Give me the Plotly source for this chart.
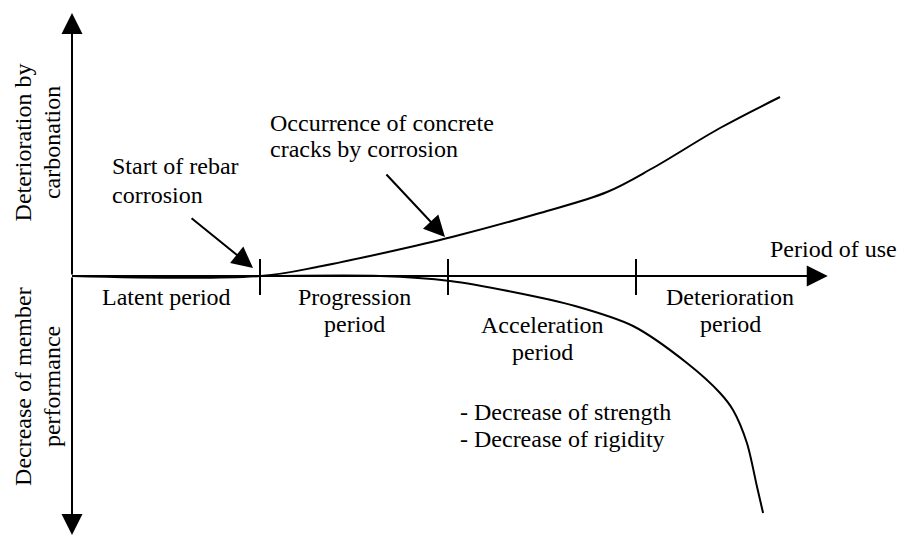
import plotly.graph_objects as go

# ---- data (x: period of use, period boundaries at 1, 2, 3; y: + deterioration / - decrease of performance)
carb_x = [0.0, 1.005, 1.330, 1.681, 2.021, 2.489, 2.846, 3.090, 3.447, 3.766]
carb_y = [0.0, 0.0, 0.10, 0.24, 0.39, 0.63, 0.84, 1.08, 1.48, 1.79]

perf_x = [0.0, 1.005, 1.638, 2.011, 2.346, 2.676, 2.984, 3.271, 3.447, 3.516, 3.590, 3.644, 3.676]
perf_y = [0.0, 0.0, 0.0, -0.05, -0.16, -0.30, -0.50, -0.87, -1.17, -1.34, -1.67, -2.11, -2.37]

period_bounds = [1, 2, 3]
period_centers = [0.5, 1.5, 2.5, 3.5]
period_labels = [["Latent period"], ["Progression", "period"], ["Acceleration", "period"], ["Deterioration", "period"]]
period_label_top = [-0.21, -0.21, -0.49, -0.21]

axis_end_x = 4.02
axis_top_y = 2.63
axis_bottom_y = -2.59

FAMILY = "Liberation Serif"

fig = go.Figure()
fig.add_trace(go.Scatter(x=carb_x, y=carb_y, mode="lines", line=dict(color="black", width=2, shape="spline", smoothing=1.0), hoverinfo="skip"))
fig.add_trace(go.Scatter(x=perf_x, y=perf_y, mode="lines", line=dict(color="black", width=2, shape="spline", smoothing=0.8), hoverinfo="skip"))

ann = []
def arrow(x, y, ax, ay, size, width=2):
    ann.append(dict(x=x, y=y, ax=ax, ay=ay, xref="x", yref="y", axref="x", ayref="y",
                    text="", showarrow=True, arrowhead=2, arrowsize=size, arrowwidth=width,
                    arrowcolor="black", standoff=0))

# axes with arrowheads
arrow(axis_end_x, 0, 0, 0, 2.1)
arrow(0, axis_top_y, 0, 0, 2.1)
arrow(0, axis_bottom_y, 0, 0, 2.1)

# leader arrows
arrow(0.963, 0.08, 0.628, 0.59, 2.1)
arrow(1.984, 0.39, 1.665, 1.03, 2.1)

def label(t, x, y, xanchor="center", angle=0):
    ann.append(dict(x=x, y=y, xref="x", yref="y", text=t, showarrow=False,
                    font=dict(family=FAMILY, size=24, color="black"),
                    xanchor=xanchor, yanchor="middle", textangle=angle))

label("Start of rebar", 0.202, 1.10, "left")
label("corrosion", 0.202, 0.81, "left")
label("Occurrence of concrete", 1.043, 1.53, "left")
label("cracks by corrosion", 1.043, 1.27, "left")
label("Period of use", 4.05, 0.27)

for cx, top, lab in zip(period_centers, period_label_top, period_labels):
    for i, l in enumerate(lab):
        label(l, cx, top - 0.27 * i)

label("- Decrease of strength", 2.053, -1.36, "left")
label("- Decrease of rigidity", 2.053, -1.63, "left")

label("Deterioration by", -0.261, 1.335, angle=-90)
label("carbonation", -0.106, 1.33, angle=-90)
label("Decrease of member", -0.261, -1.10, angle=-90)
label("performance", -0.106, -1.11, angle=-90)

shapes = [dict(type="line", xref="x", yref="y", x0=b, x1=b, y0=0.17, y1=-0.19,
               line=dict(color="black", width=2)) for b in period_bounds]

# the page body adds an 8px offset, so the visible window starts 8px inside the figure's own frame
fig.update_layout(
    width=907, height=536, margin=dict(l=0, r=0, t=0, b=0),
    font=dict(family=FAMILY, size=24, color="black"),
    paper_bgcolor="white", plot_bgcolor="white", showlegend=False,
    xaxis=dict(range=[(8 - 72) / 188, (915 - 72) / 188], visible=False, fixedrange=True),
    yaxis=dict(range=[(276 - 544) / 100, (276 - 8) / 100], visible=False, fixedrange=True),
    annotations=ann, shapes=shapes,
)
fig.write_html("out.html")
